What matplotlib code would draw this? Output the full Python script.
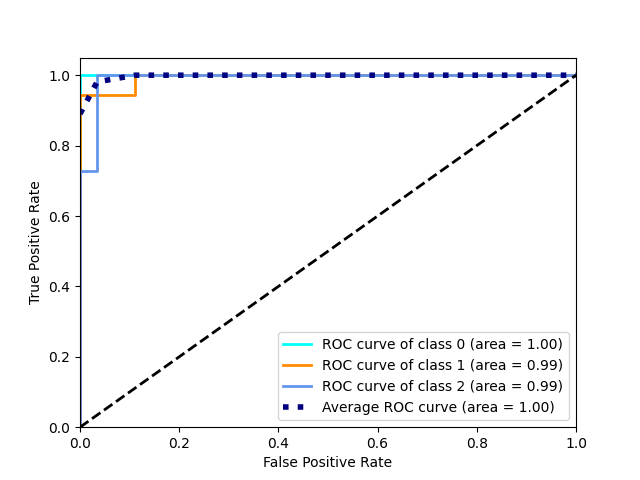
import matplotlib
matplotlib.use("Agg")
import matplotlib.pyplot as plt

fpr0 = [0.0, 0.0, 1.0]
tpr0 = [0.0, 1.0, 1.0]
fpr1 = [0.0, 0.0, 0.111, 0.111, 1.0]
tpr1 = [0.0, 0.944, 0.944, 1.0, 1.0]
fpr2 = [0.0, 0.0, 0.0345, 0.0345, 1.0]
tpr2 = [0.0, 0.727, 0.727, 1.0, 1.0]
fpr_avg = [0.0, 0.0345, 0.111, 1.0]
tpr_avg = [0.890, 0.981, 1.0, 1.0]
areas = [1.00, 0.99, 0.99]
area_avg = 1.00

fig, ax = plt.subplots(figsize=(6.4, 4.8), dpi=100)
colors = ["aqua", "darkorange", "cornflowerblue"]
for i, (f, t) in enumerate([(fpr0, tpr0), (fpr1, tpr1), (fpr2, tpr2)]):
    ax.plot(f, t, color=colors[i], lw=2,
            label="ROC curve of class {0} (area = {1:0.2f})".format(i, areas[i]))
ax.plot(fpr_avg, tpr_avg, label="Average ROC curve (area = {0:0.2f})".format(area_avg),
        color="navy", linestyle=":", linewidth=4)
ax.plot([0, 1], [0, 1], "k--", lw=2)
ax.set_xlim([0.0, 1.0])
ax.set_ylim([0.0, 1.05])
ax.set_xlabel("False Positive Rate")
ax.set_ylabel("True Positive Rate")
ax.legend(loc="lower right")
fig.savefig("out.png")
